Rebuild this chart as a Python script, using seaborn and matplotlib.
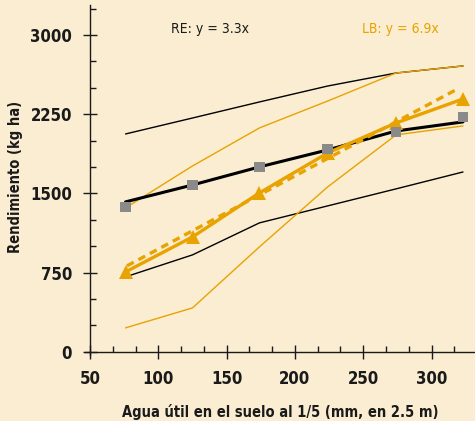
import matplotlib
matplotlib.use("Agg")
import matplotlib.pyplot as plt
from matplotlib.ticker import MultipleLocator, FixedLocator
import seaborn as sns
import pandas as pd

# ---- data ----
agua = [76, 125, 174, 224, 274, 323]
re_media = [1372, 1580, 1751, 1921, 2082, 2224]      # gray squares
re_linea = [1420, 1580, 1751, 1912, 2091, 2177]      # thick black line
re_max = [2063, 2214, 2366, 2517, 2640, 2707]        # thin black upper
re_min = [710, 918, 1221, 1382, 1543, 1703]          # thin black lower
lb_media = [757, 1088, 1505, 1883, 2167, 2394]       # thick orange with triangles
lb_max = [1363, 1760, 2120, 2375, 2640, 2707]        # thin orange upper
lb_min = [227, 416, 994, 1562, 2054, 2139]           # thin orange lower
lb_ajuste_x = [77, 319]
lb_ajuste_y = [814, 2489]                            # dashed orange fit
x_ticks = [50, 100, 150, 200, 250, 300]
y_ticks = [0, 750, 1500, 2250, 3000]
texto_re = "RE: y = 3.3x"
texto_lb = "LB: y = 6.9x"

BG = "#FAEDD1"
ORANGE = "#E8A300"
GRAY = "#8A8A8A"
INK = "#1a1a1a"
FAM = ["Liberation Sans Narrow", "DejaVu Sans"]

sns.set_theme(style="ticks")
plt.rcParams["font.family"] = FAM
plt.rcParams["font.stretch"] = "condensed"

fig = plt.figure(figsize=(4.75, 4.21), dpi=100, facecolor=BG)
ax = fig.add_axes([85 / 475, (421 - 355) / 421, 390 / 475, 350 / 421])
ax.set_facecolor(BG)

df = pd.DataFrame({"x": agua, "re_media": re_media, "re_linea": re_linea,
                   "re_max": re_max, "re_min": re_min, "lb_media": lb_media,
                   "lb_max": lb_max, "lb_min": lb_min})
fit = pd.DataFrame({"x": lb_ajuste_x, "y": lb_ajuste_y})

thin = 1.0
sns.lineplot(data=df, x="x", y="re_max", color="black", lw=thin, ax=ax, zorder=2)
sns.lineplot(data=df, x="x", y="re_min", color="black", lw=thin, ax=ax, zorder=2)
sns.lineplot(data=df, x="x", y="lb_max", color=ORANGE, lw=thin, ax=ax, zorder=2)
sns.lineplot(data=df, x="x", y="lb_min", color=ORANGE, lw=thin, ax=ax, zorder=2)
sns.lineplot(data=df, x="x", y="re_linea", color="black", lw=2.2, ax=ax, zorder=3)
sns.lineplot(data=fit, x="x", y="y", color=ORANGE, lw=2.4, ax=ax, zorder=3,
             dashes=False, linestyle=(0, (2.3, 1.6)))
sns.lineplot(data=df, x="x", y="lb_media", color=ORANGE, lw=2.4, ax=ax, zorder=4,
             marker="^", markersize=10, markeredgewidth=0, markerfacecolor=ORANGE)
sns.scatterplot(data=df, x="x", y="re_media", color=GRAY, marker="s", s=60,
                edgecolor="none", ax=ax, zorder=5)

ax.text(138, 3057, texto_re, color=INK, fontsize=10, ha="center", va="center")
ax.text(277, 3057, texto_lb, color=ORANGE, fontsize=10, ha="center", va="center")

ax.set_xlim(46.3, 331.8)
ax.set_ylim(-30, 3284)
ax.spines["left"].set_position(("data", 50))
ax.spines["bottom"].set_position(("data", 0))
ax.spines["right"].set_visible(False)
ax.spines["top"].set_visible(False)
for s in ("left", "bottom"):
    ax.spines[s].set_color(INK)
    ax.spines[s].set_linewidth(1.0)

ax.xaxis.set_major_locator(FixedLocator(x_ticks))
ax.yaxis.set_major_locator(FixedLocator(y_ticks))
ax.xaxis.set_minor_locator(MultipleLocator(50 / 3))
ax.yaxis.set_minor_locator(MultipleLocator(250))
ax.set_xticklabels([str(v) for v in x_ticks])
ax.set_yticklabels([str(v) for v in y_ticks])
ax.tick_params(which="major", direction="inout", length=10, width=1.0,
               color=INK, labelsize=12, pad=8)
ax.tick_params(which="minor", direction="in", length=4.5, width=1.0, color=INK)
for lab in ax.get_xticklabels() + ax.get_yticklabels():
    lab.set_fontweight("bold")
    lab.set_color(INK)

ax.set_xlabel("Agua útil en el suelo al 1/5 (mm, en 2.5 m)", fontsize=10.5,
              fontweight="bold", color=INK)
ax.set_ylabel("Rendimiento (kg ha)", fontsize=10.5, fontweight="bold", color=INK)
ax.xaxis.set_label_coords(0.5, -0.14)
ax.yaxis.set_label_coords(-0.16, 0.51)

fig.savefig("out.png", dpi=100, facecolor=BG)
